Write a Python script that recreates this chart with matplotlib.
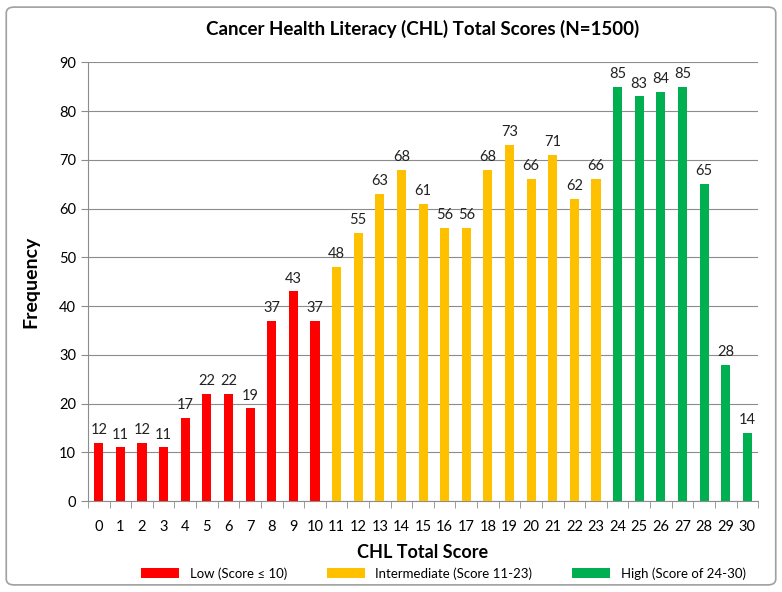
import matplotlib
matplotlib.use("Agg")

import matplotlib.pyplot as plt
from matplotlib.patches import Patch, FancyBboxPatch
import numpy as np

plt.rcParams['font.family'] = ['Lato', 'DejaVu Sans']

# CHL total scores 0-30 and their frequencies
scores = list(range(31))
freq = [12, 11, 12, 11, 17, 22, 22, 19, 37, 43, 37,
        48, 55, 63, 68, 61, 56, 56, 68, 73, 66, 71, 62, 66,
        85, 83, 84, 85, 65, 28, 14]

groups = ["Low (Score \u2264 10)", "Intermediate (Score 11-23)", "High (Score of 24-30)"]
group_colors = ["#FF0000", "#FFC000", "#00B050"]

def color_for(s):
    if s <= 10:
        return group_colors[0]
    if s <= 23:
        return group_colors[1]
    return group_colors[2]

colors = [color_for(s) for s in scores]

fig = plt.figure(figsize=(7.82, 5.92), dpi=100)
ax = fig.add_axes([0.1125, 0.1537, 0.857, 0.741])

ax.bar(scores, freq, width=0.42, color=colors, zorder=3)
for s, f in zip(scores, freq):
    ax.text(s, f + 1.2, str(f), ha="center", va="bottom", fontsize=10.5, color="#222222")

ax.set_xlim(-0.5, 30.5)
ax.set_ylim(0, 90)
ax.set_yticks(range(0, 91, 10))
ax.grid(axis="y", color="#8c8c8c", linewidth=0.8, zorder=0)

ax.set_xticks(scores)
ax.set_xticklabels([str(s) for s in scores], fontsize=10.5)
ax.set_xticks(np.arange(-0.5, 31, 1), minor=True)
ax.tick_params(axis="x", which="major", length=0, pad=14)
ax.tick_params(axis="x", which="minor", length=5, color="#8c8c8c")
ax.tick_params(axis="y", length=5, color="#8c8c8c", labelsize=10.5)

for side in ["top", "right"]:
    ax.spines[side].set_visible(False)
for side in ["left", "bottom"]:
    ax.spines[side].set_color("#8c8c8c")

ax.set_ylabel("Frequency", fontsize=14, fontweight="bold", labelpad=14)
ax.set_xlabel("CHL Total Score", fontsize=13, fontweight="bold", labelpad=7)
ax.set_title("Cancer Health Literacy (CHL) Total Scores (N=1500)",
             fontsize=13.5, fontweight="bold", pad=20)

handles = [Patch(facecolor=c) for c in group_colors]
fig.legend(handles, groups, loc="center", bbox_to_anchor=(0.567, 0.031), ncol=3,
           frameon=False, fontsize=9.5, handlelength=2.9, handleheight=0.8,
           columnspacing=3.0, handletextpad=0.8)

# outer chart border
fig.patches.append(FancyBboxPatch((0.008, 0.012), 0.984, 0.976,
                                  boxstyle="round,pad=0,rounding_size=0.01",
                                  transform=fig.transFigure, fill=False,
                                  edgecolor="#a0a0a0", linewidth=1.2))

plt.savefig("out.png", dpi=100)
